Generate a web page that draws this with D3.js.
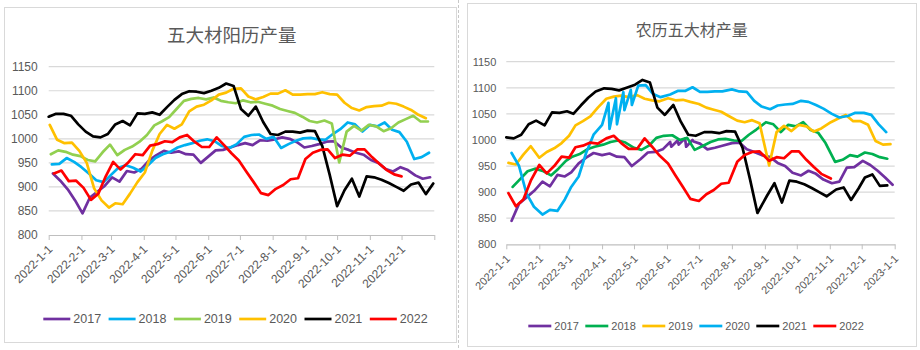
<!DOCTYPE html>
<html>
<head>
<meta charset="utf-8">
<script src="https://cdn.jsdelivr.net/npm/d3@7"></script>
<style>
  body { margin: 0; background: #fff; }
  svg { display: block; }
  text { font-family: "Liberation Sans Narrow", "Liberation Sans", Arial, sans-serif; fill: #595959; }
  .title { font-family: "Noto Sans CJK SC", sans-serif; }
</style>
</head>
<body>
<div id="chart"></div>
<script>
// weekly output of the five main steel products, one array per year
const years = ["2017", "2018", "2019", "2020", "2021", "2022"];
// date of the first reading in each year (2021 was sampled on Fridays, the rest on Thursdays)
const firstWeek = ["2017-01-05", "2018-01-04", "2019-01-03", "2020-01-02", "2021-01-01", "2022-01-06"];

const prod2017 = [928, 913, 895, 872, 845, 878, 890, 902, 920, 911, 933, 930, 938, 955, 966, 975, 971, 974, 968, 967,
  950, 963, 976, 977, 982, 987, 991, 987, 997, 996, 999, 1003, 1000, 993, 982, 985, 989, 994, 995, 982,
  977, 971, 967, 956, 950, 937, 932, 941, 935, 924, 917, 920];
const prod2018 = [947, 948, 960, 952, 941, 928, 914, 910, 925, 940, 945, 940, 932, 945, 960, 968, 973, 982, 987, 991,
  996, 999, 995, 985, 981, 989, 1004, 1008, 1009, 1000, 1004, 981, 989, 996, 1001, 1002, 999, 998, 1010, 1020,
  1034, 1030, 1015, 1029, 1026, 1034, 1019, 1014, 994, 958, 962, 971];
const prod2019 = [968, 976, 973, 967, 964, 956, 953, 972, 988, 966, 977, 984, 994, 1008, 1028, 1036, 1045, 1062, 1079, 1083,
  1085, 1082, 1086, 1079, 1076, 1074, 1080, 1076, 1077, 1073, 1069, 1062, 1058, 1054, 1046, 1037, 1034, 1038, 1032, 951,
  1015, 1027, 1017, 1029, 1026, 1016, 1022, 1034, 1041, 1048, 1036, 1036];
const prod2020 = [1029, 998, 991, 992, 975, 950, 897, 872, 857, 866, 864, 886, 910, 930, 975, 1010, 1029, 1021, 1030, 1057,
  1067, 1071, 1080, 1092, 1096, 1104, 1105, 1088, 1082, 1087, 1094, 1094, 1101, 1092, 1092, 1093, 1093, 1097, 1093, 1092,
  1075, 1064, 1059, 1066, 1068, 1069, 1075, 1073, 1067, 1060, 1050, 1043];
const prod2021 = [1046, 1052, 1052, 1048, 1030, 1015, 1005, 1003, 1010, 1030, 1037, 1028, 1053, 1052, 1055, 1050, 1066, 1081, 1093, 1099,
  1098, 1095, 1100, 1106, 1115, 1110, 1062, 1048, 1067, 1035, 1010, 1008, 1015, 1015, 1013, 1017, 1016, 985, 925, 860,
  893, 917, 880, 922, 920, 915, 908, 900, 892, 905, 909, 885, 907];
const prod2022 = [928, 934, 912, 913, 898, 873, 886, 922, 952, 936, 950, 968, 966, 986, 989, 995, 993, 1003, 1008, 994,
  983, 983, 1003, 987, 970, 955, 932, 910, 887, 883, 896, 904, 916, 918, 958, 971, 977, 978, 960, 967,
  965, 978, 978, 962, 948, 935, 926, 922];
const production = [prod2017, prod2018, prod2019, prod2020, prod2021, prod2022];

// lunar calendar: new year days and leap months
const lunarNewYear = ["2017-01-28", "2018-02-16", "2019-02-05", "2020-01-25", "2021-02-12", "2022-02-01", "2023-01-22"];
const leapMonth = { "2017": 6, "2020": 4 };
const lunarLastDate = "2022-11-24"; // lunar sheet was updated one week earlier

const yTicks = [800, 850, 900, 950, 1000, 1050, 1100, 1150];
const solarColors = ["#7030a0", "#00b0f0", "#92d050", "#ffc000", "#000000", "#ff0000"];
const lunarColors = ["#7030a0", "#00b050", "#ffc000", "#00b0f0", "#000000", "#ff0000"];

const parse = d3.timeParse("%Y-%m-%d");
const fmt = d3.timeFormat("%Y-%-m-%-d");
const axisStart = new Date(2022, 0, 1), axisEnd = new Date(2023, 0, 1);

// every reading with its real date
const readings = [];
production.forEach((vals, k) => {
  const start = parse(firstWeek[k]);
  vals.forEach((v, i) => readings.push({ t: d3.timeDay.offset(start, 7 * i), v, k }));
});

// calendar view: same month-day placed on 2022
const solarSeries = years.map((y, k) => readings.filter(r => r.k === k)
  .map(r => ({ x: new Date(2022, r.t.getMonth(), r.t.getDate()), v: r.v })));

// lunar view: lunar month-day placed on 2022, sorted by that date
const SYNODIC = 29.5306;
const lastLunar = parse(lunarLastDate);
const lunarSeries = years.map((y, k) => {
  const ny = parse(lunarNewYear[k]), next = parse(lunarNewYear[k + 1]);
  return readings.filter(r => r.t >= ny && r.t < next && r.t <= lastLunar).map(r => {
    const L = d3.timeDay.count(ny, r.t);
    let m = Math.floor(L / SYNODIC);
    while (Math.round((m + 1) * SYNODIC) <= L) m++;
    while (Math.round(m * SYNODIC) > L) m--;
    const day = L - Math.round(m * SYNODIC) + 1;
    const leap = leapMonth[y];
    const month = (!leap || m < leap) ? m + 1 : m;
    return { x: new Date(2022, month - 1, day), v: r.v };
  }).sort((a, b) => a.x - b.x);
});

const svg = d3.select("#chart").append("svg").attr("width", 920).attr("height", 350);

const panels = [
  { title: "五大材阳历产量", series: solarSeries, colors: solarColors, box: [4.5, 7.5, 452, 335],
    x0: 48.7, x1: 434.3, yTop: 66.7, yBot: 235, titleX: 231.7, titleY: 42, titleSize: 18.5, fs: 12,
    legendX: 43.3, legendY: 319, legendStep: 65.3, legendLine: 27, legendFs: 12.5, lastLabel: false },
  { title: "农历五大材产量", series: lunarSeries, colors: lunarColors, box: [467.5, 3.5, 449, 343],
    x0: 506.3, x1: 894.7, yTop: 61.7, yBot: 244.3, titleX: 691.7, titleY: 36, titleSize: 16, fs: 11,
    legendX: 528.3, legendY: 326, legendStep: 57, legendLine: 23, legendFs: 11, lastLabel: true }
];

panels.forEach(p => {
  const g = svg.append("g");
  g.append("rect").attr("x", p.box[0]).attr("y", p.box[1]).attr("width", p.box[2]).attr("height", p.box[3])
    .attr("fill", "#fff").attr("stroke", "#d9d9d9");

  g.append("text").attr("class", "title").attr("x", p.titleX).attr("y", p.titleY)
    .attr("text-anchor", "middle").style("font-size", p.titleSize + "px").text(p.title);

  const x = d3.scaleTime().domain([axisStart, axisEnd]).range([p.x0, p.x1]);
  const y = d3.scaleLinear().domain([800, 1150]).range([p.yBot, p.yTop]);

  // gridlines
  g.append("g").selectAll("line").data(yTicks.slice(1)).join("line")
    .attr("x1", p.x0).attr("x2", p.x1).attr("y1", d => y(d)).attr("y2", d => y(d))
    .attr("stroke", "#d9d9d9").attr("stroke-width", 1.2);

  // y axis labels
  const ya = g.append("g").attr("transform", `translate(${p.x0},0)`)
    .call(d3.axisLeft(y).tickValues(yTicks).tickSize(0).tickPadding(p.fs - 1).tickFormat(d3.format("d")));
  ya.select(".domain").remove();
  ya.selectAll("text").style("font-size", p.fs + "px").style("font-family", null).attr("fill", null);

  // x axis
  const months = d3.timeMonth.range(axisStart, d3.timeDay.offset(axisEnd, 1));
  const xa = g.append("g").attr("transform", `translate(0,${p.yBot})`)
    .call(d3.axisBottom(x).tickValues(months).tickSize(5).tickSizeOuter(0)
      .tickFormat(d => (!p.lastLabel && +d === +axisEnd) ? "" : fmt(d)));
  xa.select(".domain").attr("stroke", "#bfbfbf").attr("stroke-width", 1.2);
  xa.selectAll(".tick line").attr("stroke", "#bfbfbf");
  xa.selectAll(".tick text").style("font-size", p.fs + "px").style("font-family", null).attr("fill", null)
    .attr("text-anchor", "end").attr("y", 0).attr("dy", 0)
    .attr("transform", "translate(4,15) rotate(-45)");

  // lines
  const line = d3.line().x(d => x(d.x)).y(d => y(d.v));
  g.append("g").selectAll("path").data(p.series).join("path")
    .attr("d", line).attr("fill", "none")
    .attr("stroke", (d, i) => p.colors[i]).attr("stroke-width", 2.7)
    .attr("stroke-linejoin", "round").attr("stroke-linecap", "round");

  // legend
  const lg = g.append("g").selectAll("g").data(years).join("g")
    .attr("transform", (d, i) => `translate(${p.legendX + i * p.legendStep},${p.legendY})`);
  lg.append("line").attr("x2", p.legendLine).attr("stroke", (d, i) => p.colors[i]).attr("stroke-width", 2.7);
  lg.append("text").attr("x", p.legendLine + 3).attr("dy", "0.35em")
    .style("font-size", p.legendFs + "px").text(d => d);
});

// dashed separator at the right edge of the first chart
svg.append("line").attr("x1", 458.5).attr("x2", 458.5).attr("y1", 0).attr("y2", 350)
  .attr("stroke", "#c8c8c8").attr("stroke-dasharray", "3,2");
</script>
</body>
</html>
